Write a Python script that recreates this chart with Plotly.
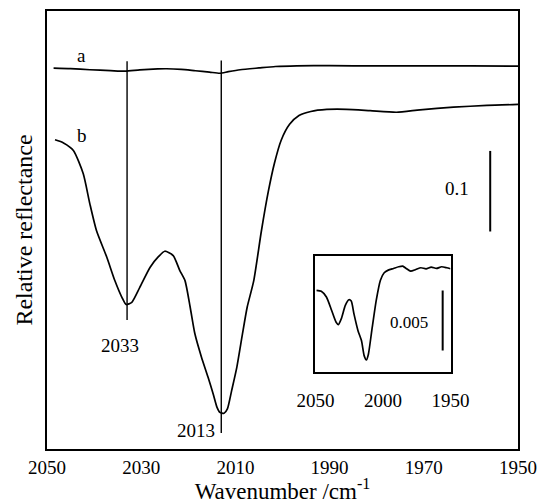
import plotly.graph_objects as go

# Spectrum a (upper trace)
wn_a = [2048.6, 2045.0, 2040.9, 2036.5, 2033.4, 2030.3, 2026.5, 2024.6, 2021.5,
        2018.5, 2015.5, 2013.3, 2011.5, 2009.0, 2005.0, 2001.5, 1997.0, 1990.0,
        1980.0, 1970.0, 1960.0, 1950.0]
refl_a = [0.4728, 0.4722, 0.4708, 0.4697, 0.4690, 0.4706, 0.4718, 0.4720, 0.4712,
          0.4695, 0.4678, 0.4664, 0.4684, 0.4708, 0.4730, 0.4748, 0.4757, 0.4758,
          0.4755, 0.4757, 0.4755, 0.4752]

# Spectrum b (lower trace)
wn_b = [2048.3, 2046.5, 2044.4, 2042.3, 2040.9, 2039.5, 2037.3, 2035.6, 2034.1,
        2033.2, 2032.0, 2030.3, 2028.1, 2026.3, 2025.0, 2023.2, 2021.8, 2020.7,
        2019.6, 2018.6, 2017.2, 2015.8, 2014.7, 2013.9, 2013.3, 2012.4, 2011.7,
        2010.8, 2009.7, 2008.5, 2007.5, 2006.1, 2004.5, 2003.0, 2001.7, 2000.3,
        1998.5, 1996.5, 1994.0, 1990.6, 1986.4, 1981.4, 1975.8, 1970.8, 1963.7,
        1956.6, 1950.0]
refl_b = [0.3838, 0.3800, 0.3706, 0.3416, 0.3043, 0.2712, 0.2380, 0.2091, 0.1883,
          0.1793, 0.1821, 0.2007, 0.2256, 0.2390, 0.2455, 0.2401, 0.2215, 0.2090,
          0.1760, 0.1430, 0.1140, 0.0890, 0.0680, 0.0517, 0.0455, 0.0443, 0.0497,
          0.0724, 0.1014, 0.1429, 0.1760, 0.2090, 0.2700, 0.3200, 0.3550, 0.3830,
          0.4030, 0.4140, 0.4190, 0.4215, 0.4217, 0.4200, 0.4180, 0.4210, 0.4243,
          0.4265, 0.4277]

# Inset spectrum (expanded scale)
wn_in = [2049.2, 2045.7, 2041.9, 2038.0, 2034.7, 2033.0, 2030.9, 2027.9, 2025.3,
         2023.5, 2021.5, 2018.5, 2015.9, 2013.9, 2012.3, 2010.8, 2008.3, 2005.0,
         2001.9, 1999.1, 1996.1, 1992.2, 1988.4, 1985.4, 1982.8, 1979.5, 1975.7,
         1971.9, 1968.1, 1964.3, 1960.4, 1956.6, 1952.8, 1950.0]
refl_in = [0.006826, 0.006742, 0.006264, 0.005140, 0.004157, 0.003961, 0.004438,
           0.005562, 0.006039, 0.005927, 0.004860, 0.003455, 0.002612, 0.001348,
           0.001011, 0.001489, 0.003455, 0.005983, 0.007669, 0.008287, 0.008511,
           0.008652, 0.008792, 0.008848, 0.008652, 0.008427, 0.008568, 0.008708,
           0.008624, 0.008764, 0.008652, 0.008792, 0.008708, 0.008624]

# Band markers: position and vertical extent
band_pos = [2033, 2013]
band_labels = ["2033", "2013"]
band_low = [0.1602, 0.020]
band_high = [0.4812, 0.4824]
band_label_x = [2034.4, 2018.4]
band_label_y = [0.1283, 0.0227]

# Scale bars
bar_main_x = 1955.9
bar_main = [0.27, 0.37]
bar_inset_x = 1955.8
bar_inset = [0.0018, 0.0068]

main_ticks = [2050, 2030, 2010, 1990, 1970, 1950]
inset_ticks = [2050, 2000, 1950]

FONT = "Liberation Serif, Times New Roman, Times, serif"
line_style = dict(color="black", width=1.7)

fig = go.Figure()

fig.add_trace(go.Scatter(x=wn_a, y=refl_a, mode="lines", line=dict(line_style, shape="spline", smoothing=0.6),
                         xaxis="x", yaxis="y", hoverinfo="skip"))
fig.add_trace(go.Scatter(x=wn_b, y=refl_b, mode="lines", line=dict(line_style, shape="spline", smoothing=0.6),
                         xaxis="x", yaxis="y", hoverinfo="skip"))

for pos, lo, hi in zip(band_pos, band_low, band_high):
    fig.add_trace(go.Scatter(x=[pos, pos], y=[lo, hi], mode="lines",
                             line=dict(color="black", width=1.4), xaxis="x", yaxis="y"))

fig.add_trace(go.Scatter(x=[bar_main_x, bar_main_x], y=bar_main, mode="lines",
                         line=dict(color="black", width=2), xaxis="x", yaxis="y"))

fig.add_trace(go.Scatter(x=wn_in, y=refl_in, mode="lines", line=dict(line_style, shape="spline", smoothing=0.6),
                         xaxis="x2", yaxis="y2", hoverinfo="skip"))
fig.add_trace(go.Scatter(x=[bar_inset_x, bar_inset_x], y=bar_inset, mode="lines",
                         line=dict(color="black", width=2), xaxis="x2", yaxis="y2"))

annotations = [
    dict(x=2042.6, y=0.4886, text="a", xref="x", yref="y"),
    dict(x=2042.6, y=0.389, text="b", xref="x", yref="y"),
    dict(x=1962.95, y=0.3234, text="0.1", xref="x", yref="y"),
    dict(x=1980.7, y=0.004174, text="0.005", xref="x2", yref="y2", font=dict(family=FONT, size=17, color="black")),
]
for lbl, lx, ly in zip(band_labels, band_label_x, band_label_y):
    annotations.append(dict(x=lx, y=ly, text=lbl, xref="x", yref="y"))
for a in annotations:
    a.setdefault("font", dict(family=FONT, size=19, color="black"))
    a["showarrow"] = False

axis_common = dict(showline=True, mirror=True, linecolor="black", showgrid=False,
                   zeroline=False, ticks="", automargin=False)

fig.update_layout(
    width=538, height=504,
    margin=dict(l=47, r=20, t=11, b=55),
    paper_bgcolor="white", plot_bgcolor="white",
    showlegend=False,
    font=dict(family=FONT, color="black"),
    xaxis=dict(axis_common, linewidth=2, range=[2050, 1950], tickvals=main_ticks,
               tickfont=dict(family=FONT, size=19, color="black"),
               title=dict(text="Wavenumber /cm<sup>-1</sup>", font=dict(family=FONT, size=23, color="black"),
                          standoff=6)),
    yaxis=dict(axis_common, linewidth=2, range=[0, 0.5437], showticklabels=False,
               title=dict(text="Relative reflectance", font=dict(family=FONT, size=24, color="black"),
                          standoff=6)),
    xaxis2=dict(axis_common, linewidth=2, domain=[0.570, 0.8567], anchor="y2", range=[2050, 1950],
                tickvals=inset_ticks, tickfont=dict(family=FONT, size=19, color="black"),
                ticklabelstandoff=10),
    yaxis2=dict(axis_common, linewidth=2, domain=[0.1758, 0.4406], anchor="x2", range=[0, 0.00969],
                showticklabels=False),
    annotations=annotations,
)

fig.write_html("out.html")
